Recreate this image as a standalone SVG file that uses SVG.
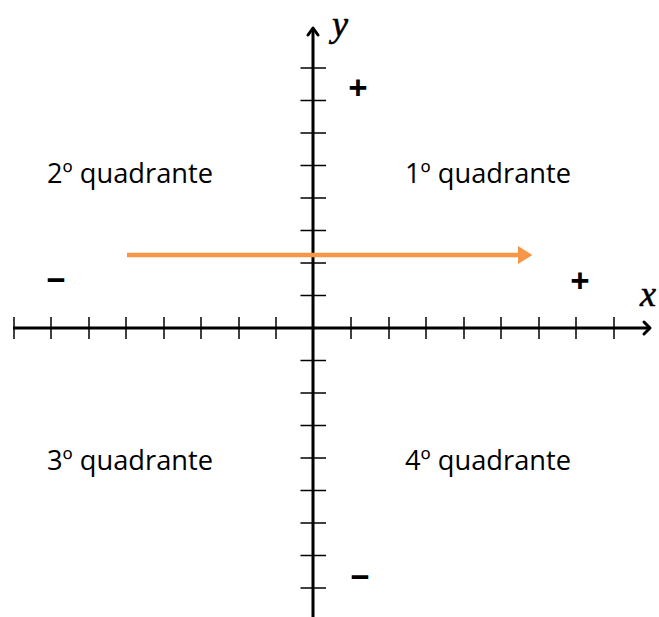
<svg xmlns="http://www.w3.org/2000/svg" width="659" height="617" viewBox="0 0 659 617">
<style>
.axis{stroke:#000;stroke-width:3;fill:none}
.tick{stroke:#000;stroke-width:1.5;fill:none}
.head{stroke:#000;stroke-width:3;fill:none;stroke-linecap:round;stroke-linejoin:round}
.lbl{font-family:"Open Sans","Liberation Sans",sans-serif;font-size:27px;fill:#000}
.sign{font-family:"Open Sans","Liberation Sans",sans-serif;font-size:34px;font-weight:bold;fill:#000;text-anchor:middle}
.var{font-family:"Liberation Serif","DejaVu Serif",serif;font-style:italic;font-size:36px;fill:#000;stroke:#000;stroke-width:0.6}
</style>
<defs>
<marker id="orange-head" markerWidth="4" markerHeight="4" refX="0" refY="2" orient="auto" markerUnits="strokeWidth">
<path d="M0,0 L3.2,2 L0,4 Z" fill="#F79646"/>
</marker>
</defs>
<rect width="659" height="617" fill="#fff"/>
<g id="axes">
<line class="axis" x1="13" y1="328" x2="649" y2="328"/>
<line class="axis" x1="313" y1="28" x2="313" y2="617"/>
<polyline class="head" points="644,322 650,328 644,334"/>
<polyline class="head" points="308,35 313,28 318,35"/>
</g>
<g id="x-ticks" class="tick">
<line x1="14" y1="317" x2="14" y2="339"/>
<line x1="51" y1="317" x2="51" y2="339"/>
<line x1="89" y1="317" x2="89" y2="339"/>
<line x1="126" y1="317" x2="126" y2="339"/>
<line x1="164" y1="317" x2="164" y2="339"/>
<line x1="201" y1="317" x2="201" y2="339"/>
<line x1="239" y1="317" x2="239" y2="339"/>
<line x1="276" y1="317" x2="276" y2="339"/>
<line x1="351" y1="317" x2="351" y2="339"/>
<line x1="389" y1="317" x2="389" y2="339"/>
<line x1="426" y1="317" x2="426" y2="339"/>
<line x1="464" y1="317" x2="464" y2="339"/>
<line x1="501" y1="317" x2="501" y2="339"/>
<line x1="539" y1="317" x2="539" y2="339"/>
<line x1="576" y1="317" x2="576" y2="339"/>
<line x1="614" y1="317" x2="614" y2="339"/>
</g>
<g id="y-ticks" class="tick">
<line x1="300.5" y1="68" x2="326" y2="68"/>
<line x1="300.5" y1="100.5" x2="326" y2="100.5"/>
<line x1="300.5" y1="133" x2="326" y2="133"/>
<line x1="300.5" y1="165.5" x2="326" y2="165.5"/>
<line x1="300.5" y1="198" x2="326" y2="198"/>
<line x1="300.5" y1="230.5" x2="326" y2="230.5"/>
<line x1="300.5" y1="263" x2="326" y2="263"/>
<line x1="300.5" y1="295.5" x2="326" y2="295.5"/>
<line x1="300.5" y1="360.5" x2="326" y2="360.5"/>
<line x1="300.5" y1="393" x2="326" y2="393"/>
<line x1="300.5" y1="425.5" x2="326" y2="425.5"/>
<line x1="300.5" y1="458" x2="326" y2="458"/>
<line x1="300.5" y1="490.5" x2="326" y2="490.5"/>
<line x1="300.5" y1="523" x2="326" y2="523"/>
<line x1="300.5" y1="555.5" x2="326" y2="555.5"/>
<line x1="300.5" y1="588" x2="326" y2="588"/>
</g>
<g id="connectors">
<line x1="127" y1="255" x2="518" y2="255" stroke="#F79646" stroke-width="4.5" marker-end="url(#orange-head)"/>
</g>
<g id="axis-labels">
<text class="var" x="332" y="36">y</text>
<text class="var" x="640" y="306">x</text>
</g>
<g id="quadrant-1"><text class="lbl" x="405" y="183" textLength="166" lengthAdjust="spacingAndGlyphs">1º quadrante</text></g>
<g id="quadrant-2"><text class="lbl" x="47" y="183" textLength="166" lengthAdjust="spacingAndGlyphs">2º quadrante</text></g>
<g id="quadrant-3"><text class="lbl" x="47" y="470" textLength="166" lengthAdjust="spacingAndGlyphs">3º quadrante</text></g>
<g id="quadrant-4"><text class="lbl" x="405" y="470" textLength="166" lengthAdjust="spacingAndGlyphs">4º quadrante</text></g>
<g id="signs">
<text class="sign" x="358" y="100">+</text>
<text class="sign" x="580" y="293">+</text>
<text class="sign" x="56" y="292">−</text>
<text class="sign" x="360" y="589">−</text>
</g>
</svg>
